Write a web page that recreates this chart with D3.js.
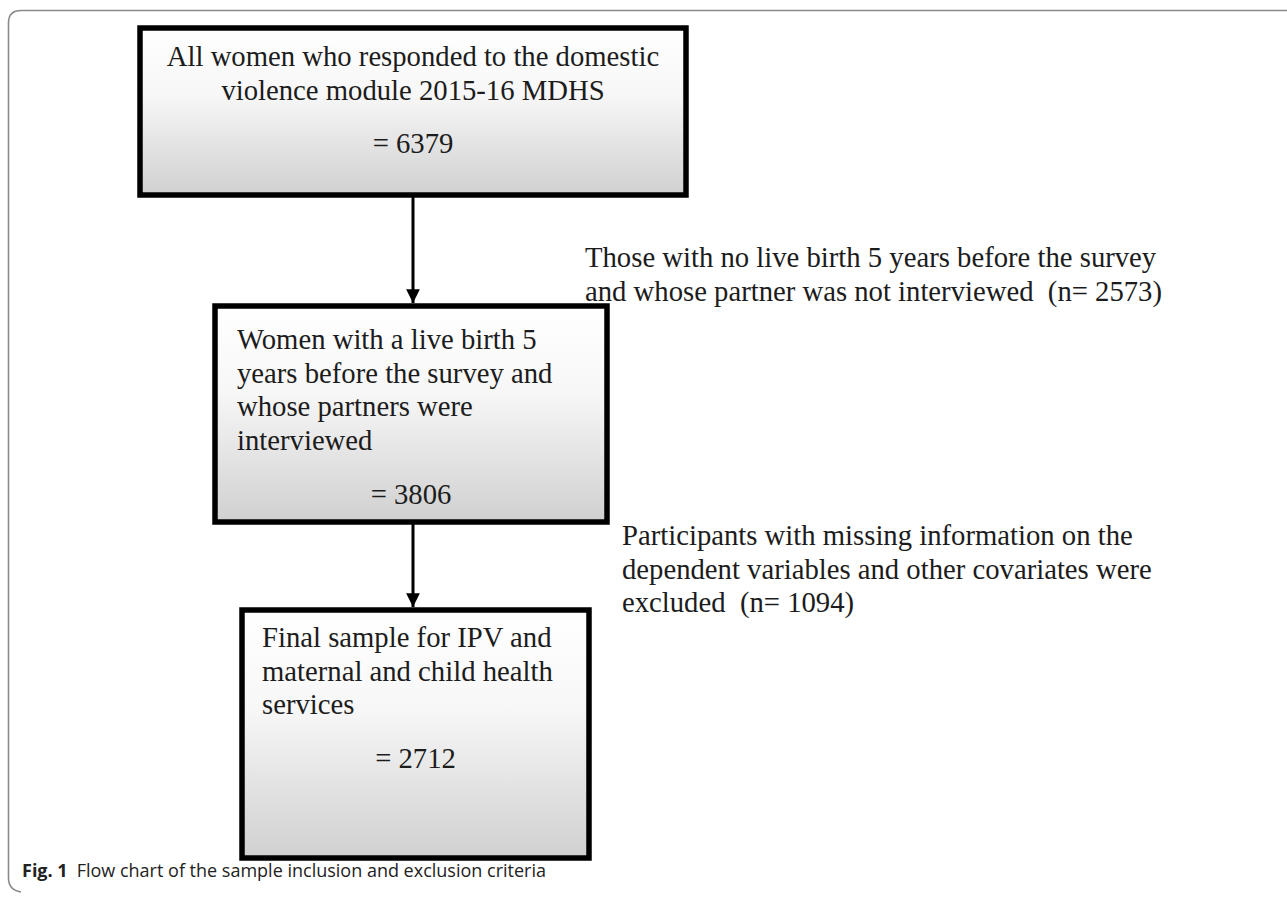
<!DOCTYPE html>
<html>
<head>
<meta charset="utf-8">
<script src="https://cdn.jsdelivr.net/npm/d3@7"></script>
<style>
  html, body { margin: 0; padding: 0; background: #fff; }
  svg { display: block; }
</style>
</head>
<body>
<svg id="chart" width="1287" height="898"></svg>
<script>
// ---- data ----
const stageLabels = [
  ["All women who responded to the domestic", "violence module 2015-16 MDHS"],
  ["Women with a live birth 5", "years before the survey and", "whose partners were", "interviewed"],
  ["Final sample for IPV and", "maternal and child health", "services"]
];
const stageCounts = [6379, 3806, 2712];
const exclusionLabels = [
  ["Those with no live birth 5 years before the survey", "and whose partner was not interviewed  (n= 2573)"],
  ["Participants with missing information on the", "dependent variables and other covariates were", "excluded  (n= 1094)"]
];
const exclusionCounts = [2573, 1094];
const captionBold = "Fig. 1";
const captionText = "Flow chart of the sample inclusion and exclusion criteria";

// ---- layout (positions kept separate from data) ----
const boxes = [
  {x0: 140, x1: 686, y0: 28, y1: 195, align: "middle", ty: 66, cy: 153},
  {x0: 215, x1: 607, y0: 306, y1: 522, align: "start", tx: 237, ty: 349, cy: 504},
  {x0: 242, x1: 589, y0: 610, y1: 858, align: "start", tx: 262, ty: 647, cy: 768}
];
const excl = [
  {x: 585, y: 267},
  {x: 622, y: 545}
];
const lineH = 33.5;
const fontSize = 28.7;
const arrowX = 413;
const serif = "'Liberation Serif', 'Times New Roman', serif";
const ink = "#1c1c1c";

const svg = d3.select("#chart");
const defs = svg.append("defs");
const grad = defs.append("linearGradient").attr("id", "boxGrad")
  .attr("x1", 0).attr("y1", 0).attr("x2", 0).attr("y2", 1);
grad.append("stop").attr("offset", "0%").attr("stop-color", "#ffffff");
grad.append("stop").attr("offset", "40%").attr("stop-color", "#f7f7f7");
grad.append("stop").attr("offset", "100%").attr("stop-color", "#d0d0d0");

defs.append("marker").attr("id", "arrow")
  .attr("viewBox", "0 0 10 10").attr("refX", 10).attr("refY", 5)
  .attr("markerWidth", 5).attr("markerHeight", 4.6).attr("markerUnits", "strokeWidth")
  .attr("orient", "auto")
  .append("path").attr("d", "M0,0 L10,5 L0,10 Z").attr("fill", "#000");

// outer frame
svg.append("path")
  .attr("d", "M1300,10.5 L21,10.5 Q8.5,10.5 8.5,23 L8.5,878 Q8.5,890 21,892")
  .attr("fill", "none").attr("stroke", "#8a8a8a").attr("stroke-width", 1.6);

// arrows between consecutive stages
const arrows = d3.range(stageCounts.length - 1).map(i => ({
  y0: boxes[i].y1 + 2, y1: boxes[i + 1].y0 - 3
}));
svg.selectAll("line.arrow").data(arrows).join("line")
  .attr("class", "arrow")
  .attr("x1", arrowX).attr("x2", arrowX)
  .attr("y1", d => d.y0).attr("y2", d => d.y1)
  .attr("stroke", "#000").attr("stroke-width", 3)
  .attr("marker-end", "url(#arrow)");

// boxes
const g = svg.selectAll("g.stage")
  .data(stageCounts.map((c, i) => ({c, lines: stageLabels[i], b: boxes[i]})))
  .join("g").attr("class", "stage");
g.append("rect")
  .attr("x", d => d.b.x0 + 2).attr("y", d => d.b.y0 + 2)
  .attr("width", d => d.b.x1 - d.b.x0).attr("height", d => d.b.y1 - d.b.y0)
  .attr("fill", "#bdbdbd").attr("opacity", 0.5);
g.append("rect")
  .attr("x", d => d.b.x0).attr("y", d => d.b.y0)
  .attr("width", d => d.b.x1 - d.b.x0).attr("height", d => d.b.y1 - d.b.y0)
  .attr("fill", "url(#boxGrad)").attr("stroke", "#000").attr("stroke-width", 5.5);
g.each(function(d) {
  const t = d3.select(this);
  const cx = (d.b.x0 + d.b.x1) / 2;
  t.selectAll("text.lbl").data(d.lines).join("text")
    .attr("class", "lbl")
    .attr("x", d.b.align === "middle" ? cx : d.b.tx)
    .attr("y", (_, j) => d.b.ty + j * lineH)
    .attr("text-anchor", d.b.align)
    .attr("font-family", serif).attr("font-size", fontSize).attr("fill", ink)
    .text(s => s);
  t.append("text")
    .attr("x", cx).attr("y", d.b.cy).attr("text-anchor", "middle")
    .attr("font-family", serif).attr("font-size", fontSize).attr("fill", ink)
    .text("= " + d.c);
});

// exclusion notes
svg.selectAll("g.excl")
  .data(exclusionLabels.map((l, i) => ({lines: l, p: excl[i], n: exclusionCounts[i]})))
  .join("g").attr("class", "excl")
  .each(function(d) {
    d3.select(this).selectAll("text").data(d.lines).join("text")
      .attr("x", d.p.x).attr("y", (_, j) => d.p.y + j * lineH)
      .attr("font-family", serif).attr("font-size", fontSize).attr("fill", ink)
      .style("white-space", "pre")
      .attr("xml:space", "preserve")
      .text(s => s);
  });

// caption
const cap = svg.append("text").attr("x", 22).attr("y", 877)
  .attr("font-family", "'Open Sans', 'Noto Sans', sans-serif").attr("font-size", 18).attr("fill", "#222");
cap.append("tspan").attr("font-weight", "bold").text(captionBold);
cap.append("tspan").attr("dx", 9).text(captionText);
</script>
</body>
</html>
